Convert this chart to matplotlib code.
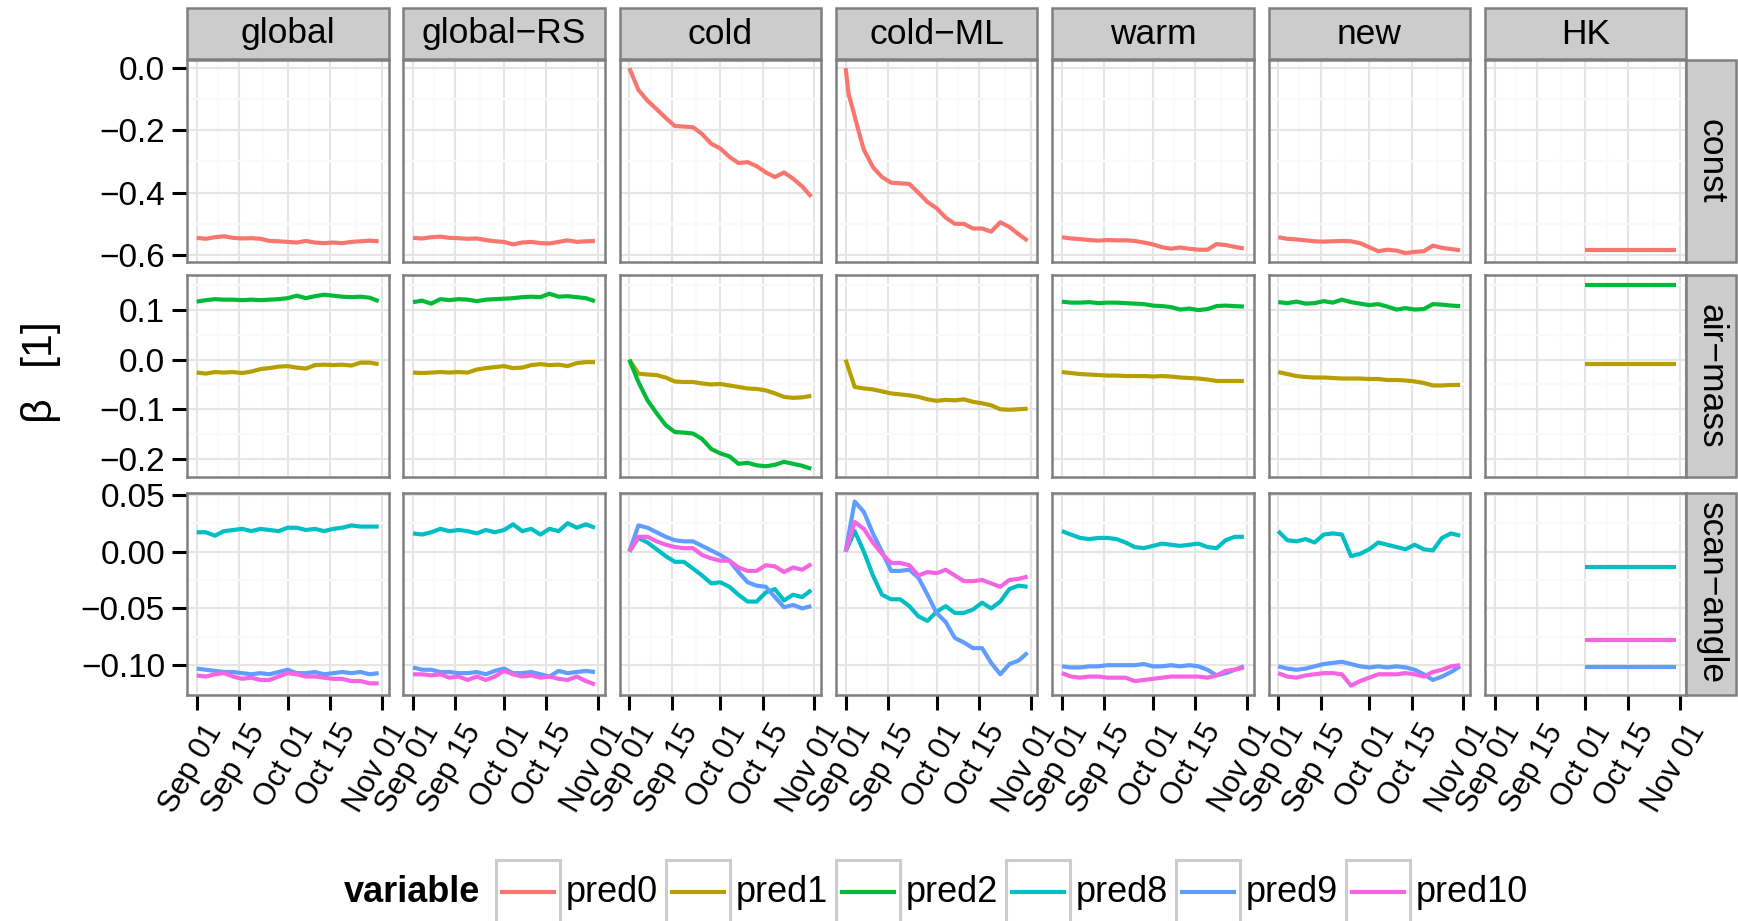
import numpy as np
import matplotlib
matplotlib.use("Agg")
import matplotlib.pyplot as plt
from matplotlib.patches import Rectangle
from matplotlib.lines import Line2D
from matplotlib.transforms import ScaledTranslation, blended_transform_factory

plt.rcParams['font.family'] = ['Liberation Sans', 'DejaVu Sans']

# ---------------------------------------------------------------- data
# days since Sep 01
days = [0, 3, 6, 9, 12, 15, 18, 21, 24, 27, 30, 33, 36, 39, 42, 45, 48, 51, 54, 57, 60]
hk_days = [30, 60]
coldml_pred0_days = [0, 1, 2.5, 4.5, 6, 9, 12, 15, 18, 21, 24, 27, 30, 33, 36, 39, 42, 45, 48, 51, 54, 57, 60]

columns = ["global", "global\u2212RS", "cold", "cold\u2212ML", "warm", "new", "HK"]
rows = ["const", "air\u2212mass", "scan\u2212angle"]
variables = ["pred0", "pred1", "pred2", "pred8", "pred9", "pred10"]
var_colors = ["#F8766D", "#B79F00", "#00BA38", "#00BFC4", "#619CFF", "#F564E3"]

date_ticks = [0, 14, 30, 44, 61]
date_labels = ["Sep 01", "Sep 15", "Oct 01", "Oct 15", "Nov 01"]
date_minor = [7, 22, 37, 52.5]

row_yticks = [[0.0, -0.2, -0.4, -0.6], [0.1, 0.0, -0.1, -0.2], [0.05, 0.0, -0.05, -0.10]]
row_ylabels = [["0.0", "\u22120.2", "\u22120.4", "\u22120.6"],
               ["0.1", "0.0", "\u22120.1", "\u22120.2"],
               ["0.05", "0.00", "\u22120.05", "\u22120.10"]]
row_yminor = [[-0.1, -0.3, -0.5], [0.15, 0.05, -0.05, -0.15], [0.025, -0.025, -0.075, -0.125]]
row_ylim = [(-0.6225, 0.0257), (-0.2376, 0.1697), (-0.1258, 0.052)]

# global
global_pred0 = [-0.545, -0.548, -0.543, -0.540, -0.545, -0.547, -0.546, -0.548, -0.555, -0.556, -0.558,
                -0.560, -0.555, -0.560, -0.562, -0.560, -0.562, -0.558, -0.556, -0.554, -0.556]
global_pred1 = [-0.026, -0.028, -0.025, -0.026, -0.025, -0.027, -0.024, -0.019, -0.017, -0.014, -0.013,
                -0.016, -0.018, -0.011, -0.010, -0.011, -0.010, -0.012, -0.006, -0.006, -0.009]
global_pred2 = [0.117, 0.120, 0.122, 0.121, 0.121, 0.120, 0.121, 0.120, 0.121, 0.122, 0.124,
                0.129, 0.124, 0.128, 0.131, 0.129, 0.127, 0.126, 0.127, 0.125, 0.118]
global_pred8 = [0.017, 0.017, 0.014, 0.018, 0.019, 0.020, 0.018, 0.020, 0.019, 0.018, 0.021,
                0.021, 0.019, 0.020, 0.018, 0.020, 0.021, 0.023, 0.022, 0.022, 0.022]
global_pred9 = [-0.103, -0.104, -0.105, -0.106, -0.106, -0.107, -0.108, -0.107, -0.108, -0.106, -0.104,
                -0.107, -0.107, -0.106, -0.108, -0.107, -0.106, -0.107, -0.106, -0.108, -0.107]
global_pred10 = [-0.109, -0.110, -0.108, -0.107, -0.110, -0.112, -0.111, -0.113, -0.113, -0.110, -0.107,
                 -0.108, -0.110, -0.110, -0.111, -0.112, -0.112, -0.114, -0.114, -0.116, -0.116]

# global-RS
globalrs_pred0 = [-0.545, -0.547, -0.543, -0.541, -0.545, -0.546, -0.548, -0.547, -0.552, -0.556, -0.558,
                  -0.566, -0.560, -0.558, -0.562, -0.563, -0.558, -0.553, -0.558, -0.556, -0.555]
globalrs_pred1 = [-0.026, -0.027, -0.026, -0.025, -0.026, -0.025, -0.026, -0.020, -0.017, -0.015, -0.013,
                  -0.017, -0.016, -0.011, -0.009, -0.011, -0.010, -0.013, -0.007, -0.005, -0.005]
globalrs_pred2 = [0.116, 0.119, 0.113, 0.122, 0.120, 0.122, 0.121, 0.118, 0.121, 0.122, 0.123,
                  0.124, 0.126, 0.127, 0.126, 0.133, 0.127, 0.128, 0.126, 0.124, 0.118]
globalrs_pred8 = [0.016, 0.015, 0.017, 0.020, 0.018, 0.019, 0.018, 0.016, 0.019, 0.017, 0.019,
                  0.024, 0.018, 0.020, 0.015, 0.020, 0.018, 0.025, 0.021, 0.024, 0.021]
globalrs_pred9 = [-0.102, -0.104, -0.104, -0.106, -0.106, -0.107, -0.107, -0.106, -0.108, -0.105, -0.103,
                  -0.107, -0.107, -0.106, -0.108, -0.110, -0.105, -0.107, -0.106, -0.105, -0.106]
globalrs_pred10 = [-0.108, -0.108, -0.109, -0.108, -0.111, -0.110, -0.113, -0.110, -0.113, -0.110, -0.105,
                   -0.108, -0.110, -0.109, -0.111, -0.110, -0.112, -0.113, -0.110, -0.114, -0.117]

# cold
cold_pred0 = [0.0, -0.070, -0.105, -0.132, -0.160, -0.186, -0.188, -0.190, -0.212, -0.243, -0.258,
              -0.285, -0.305, -0.302, -0.315, -0.335, -0.350, -0.335, -0.355, -0.380, -0.413]
cold_pred1 = [0.0, -0.028, -0.030, -0.031, -0.036, -0.044, -0.045, -0.045, -0.048, -0.050, -0.049,
              -0.052, -0.055, -0.058, -0.059, -0.062, -0.068, -0.075, -0.077, -0.076, -0.073]
cold_pred2 = [0.0, -0.045, -0.082, -0.108, -0.132, -0.146, -0.147, -0.149, -0.160, -0.180, -0.189,
              -0.195, -0.210, -0.208, -0.213, -0.215, -0.212, -0.206, -0.210, -0.214, -0.220]
cold_pred8 = [0.0, 0.012, 0.008, 0.002, -0.004, -0.009, -0.009, -0.015, -0.021, -0.028, -0.027,
              -0.031, -0.038, -0.044, -0.044, -0.036, -0.033, -0.043, -0.038, -0.040, -0.034]
cold_pred9 = [0.0, 0.023, 0.021, 0.017, 0.013, 0.010, 0.009, 0.009, 0.005, 0.001, -0.003,
              -0.008, -0.018, -0.027, -0.030, -0.031, -0.040, -0.049, -0.047, -0.050, -0.048]
cold_pred10 = [0.0, 0.013, 0.013, 0.009, 0.006, 0.004, 0.003, 0.003, -0.003, -0.006, -0.008,
               -0.008, -0.014, -0.017, -0.017, -0.012, -0.013, -0.018, -0.014, -0.016, -0.011]

# cold-ML
coldml_pred0 = [0.0, -0.084, -0.137, -0.210, -0.262, -0.318, -0.350, -0.368, -0.370, -0.372, -0.400, -0.430,
                -0.450, -0.480, -0.500, -0.500, -0.515, -0.515, -0.525, -0.495, -0.510, -0.533, -0.554]
coldml_pred1 = [0.0, -0.055, -0.058, -0.060, -0.064, -0.068, -0.070, -0.072, -0.075, -0.080, -0.083,
                -0.081, -0.082, -0.080, -0.085, -0.088, -0.092, -0.100, -0.101, -0.100, -0.099]
coldml_pred8 = [0.0, 0.018, 0.000, -0.021, -0.038, -0.042, -0.042, -0.048, -0.057, -0.061, -0.053,
                -0.048, -0.054, -0.054, -0.051, -0.045, -0.050, -0.044, -0.033, -0.030, -0.031]
coldml_pred9 = [0.0, 0.044, 0.035, 0.016, 0.000, -0.017, -0.017, -0.016, -0.023, -0.038, -0.054,
                -0.062, -0.076, -0.080, -0.085, -0.085, -0.098, -0.108, -0.099, -0.096, -0.089]
coldml_pred10 = [0.0, 0.026, 0.020, 0.008, -0.002, -0.010, -0.010, -0.012, -0.021, -0.018, -0.019,
                 -0.016, -0.021, -0.026, -0.026, -0.025, -0.028, -0.031, -0.025, -0.024, -0.022]

# warm
warm_pred0 = [-0.543, -0.547, -0.549, -0.552, -0.554, -0.552, -0.553, -0.553, -0.555, -0.560, -0.566,
              -0.575, -0.580, -0.576, -0.580, -0.583, -0.583, -0.565, -0.568, -0.574, -0.579]
warm_pred1 = [-0.025, -0.027, -0.029, -0.030, -0.031, -0.032, -0.032, -0.033, -0.033, -0.033, -0.034,
              -0.033, -0.034, -0.036, -0.037, -0.038, -0.040, -0.043, -0.043, -0.043, -0.043]
warm_pred2 = [0.117, 0.115, 0.115, 0.116, 0.114, 0.115, 0.115, 0.114, 0.113, 0.112, 0.109,
              0.108, 0.106, 0.101, 0.103, 0.100, 0.102, 0.108, 0.109, 0.108, 0.107]
warm_pred8 = [0.018, 0.015, 0.012, 0.011, 0.012, 0.012, 0.011, 0.008, 0.004, 0.003, 0.005,
              0.007, 0.006, 0.005, 0.006, 0.007, 0.004, 0.003, 0.010, 0.013, 0.013]
warm_pred9 = [-0.101, -0.102, -0.102, -0.101, -0.101, -0.100, -0.100, -0.100, -0.100, -0.099, -0.101,
              -0.101, -0.100, -0.101, -0.100, -0.101, -0.104, -0.109, -0.107, -0.104, -0.101]
warm_pred10 = [-0.107, -0.110, -0.111, -0.110, -0.110, -0.111, -0.111, -0.111, -0.114, -0.113, -0.112,
               -0.111, -0.110, -0.110, -0.110, -0.110, -0.111, -0.109, -0.105, -0.104, -0.102]

# new
new_pred0 = [-0.543, -0.548, -0.550, -0.553, -0.556, -0.557, -0.556, -0.555, -0.556, -0.562, -0.575,
             -0.588, -0.583, -0.586, -0.594, -0.590, -0.588, -0.570, -0.577, -0.581, -0.585]
new_pred1 = [-0.025, -0.029, -0.033, -0.035, -0.036, -0.036, -0.037, -0.038, -0.038, -0.038, -0.039,
             -0.039, -0.041, -0.041, -0.042, -0.044, -0.047, -0.052, -0.052, -0.051, -0.051]
new_pred2 = [0.116, 0.114, 0.117, 0.113, 0.114, 0.118, 0.115, 0.121, 0.116, 0.113, 0.110,
             0.112, 0.107, 0.101, 0.104, 0.101, 0.102, 0.112, 0.111, 0.109, 0.108]
new_pred8 = [0.018, 0.010, 0.009, 0.011, 0.008, 0.015, 0.016, 0.015, -0.004, -0.002, 0.002,
             0.008, 0.006, 0.004, 0.002, 0.006, 0.002, 0.001, 0.012, 0.016, 0.014]
new_pred9 = [-0.101, -0.103, -0.104, -0.103, -0.101, -0.099, -0.098, -0.097, -0.099, -0.101, -0.102,
             -0.101, -0.102, -0.101, -0.102, -0.104, -0.108, -0.113, -0.110, -0.106, -0.101]
new_pred10 = [-0.107, -0.110, -0.111, -0.109, -0.108, -0.107, -0.107, -0.108, -0.118, -0.114, -0.111,
              -0.108, -0.108, -0.108, -0.107, -0.108, -0.110, -0.106, -0.104, -0.101, -0.100]

# HK (Oct 01 - Oct 31 only)
hk_pred0 = [-0.584, -0.584]
hk_pred1 = [-0.009, -0.009]
hk_pred2 = [0.151, 0.151]
hk_pred8 = [-0.014, -0.014]
hk_pred9 = [-0.102, -0.102]
hk_pred10 = [-0.078, -0.078]

# series drawn in each facet: (column, row) -> list of (variable, x, y)
panel_series = {}
for col, d, d0, p0, p1, p2, p8, p9, p10 in [
        ("global", days, days, global_pred0, global_pred1, global_pred2, global_pred8, global_pred9, global_pred10),
        ("global\u2212RS", days, days, globalrs_pred0, globalrs_pred1, globalrs_pred2, globalrs_pred8, globalrs_pred9, globalrs_pred10),
        ("cold", days, days, cold_pred0, cold_pred1, cold_pred2, cold_pred8, cold_pred9, cold_pred10),
        ("cold\u2212ML", days, coldml_pred0_days, coldml_pred0, coldml_pred1, None, coldml_pred8, coldml_pred9, coldml_pred10),
        ("warm", days, days, warm_pred0, warm_pred1, warm_pred2, warm_pred8, warm_pred9, warm_pred10),
        ("new", days, days, new_pred0, new_pred1, new_pred2, new_pred8, new_pred9, new_pred10),
        ("HK", hk_days, hk_days, hk_pred0, hk_pred1, hk_pred2, hk_pred8, hk_pred9, hk_pred10)]:
    panel_series[(col, 0)] = [("pred0", d0, p0)]
    panel_series[(col, 1)] = [(v, d, s) for v, s in (("pred1", p1), ("pred2", p2)) if s is not None]
    panel_series[(col, 2)] = [("pred8", d, p8), ("pred9", d, p9), ("pred10", d, p10)]

# ---------------------------------------------------------------- layout (pixels)
W, H, DPI = 1738, 921, 100
fig = plt.figure(figsize=(W / DPI, H / DPI), dpi=DPI)
fig.patch.set_facecolor("white")

col_left0, col_step, panel_w = 187.0, 216.3, 201.5
row_tops = [60.0, 275.5, 492.5]
panel_h = 202.0
xlim = (-3.2, 63.24)

BORDER = "#7F7F7F"
STRIP = "#CCCCCC"
FS_YTICK = 24
FS_XTICK = 22
FS_STRIP = 25.5
FS_LEG = 26
LW = 3.0

def frac_rect(x0, y0, w, h):
    return [x0 / W, 1 - (y0 + h) / H, w / W, h / H]

color_of = dict(zip(variables, var_colors))

for r in range(3):
    for c, col in enumerate(columns):
        x0 = col_left0 + c * col_step
        ax = fig.add_axes(frac_rect(x0, row_tops[r], panel_w, panel_h))
        ax.set_xlim(*xlim)
        ax.set_ylim(*row_ylim[r])
        ax.set_xticks(date_ticks)
        ax.set_xticks(date_minor, minor=True)
        ax.set_yticks(row_yticks[r])
        ax.set_yticks(row_yminor[r], minor=True)
        ax.grid(which="minor", color="#FAFAFA", lw=1.5, zorder=0)
        ax.grid(which="major", color="#E5E5E5", lw=1.5, zorder=0)
        ax.set_axisbelow(True)
        for sp in ax.spines.values():
            sp.set_color(BORDER)
            sp.set_linewidth(1.8)
            sp.set_zorder(5)
        ax.tick_params(which="minor", length=0)
        ax.tick_params(which="major", direction="out", length=10.8, width=2.2,
                       color="black", labelsize=FS_YTICK, pad=5.0)
        ax.set_xticklabels([])
        if r != 2:
            ax.tick_params(axis="x", which="major", length=0)
        else:
            tr = blended_transform_factory(ax.transData, ax.transAxes)
            for t, lab in zip(date_ticks, date_labels):
                ax.text(t, 0, lab, transform=tr + ScaledTranslation(19 / DPI, -32 / DPI, fig.dpi_scale_trans),
                        rotation=60, ha="right", va="center", rotation_mode="anchor",
                        fontsize=FS_XTICK, clip_on=False)
        if c == 0:
            ax.set_yticklabels(row_ylabels[r])
        else:
            ax.set_yticklabels([])
            ax.tick_params(axis="y", which="major", length=0)
        for var, xs, ys in panel_series[(col, r)]:
            ax.plot(xs, ys, color=color_of[var], lw=LW, solid_capstyle="butt", zorder=3)

# column strips
for c, col in enumerate(columns):
    x0 = col_left0 + c * col_step
    fig.patches.append(Rectangle((x0 / W, 1 - 59.5 / H), panel_w / W, 51 / H,
                                 transform=fig.transFigure, facecolor=STRIP,
                                 edgecolor=BORDER, lw=1.8, zorder=1))
    fig.text((x0 + panel_w / 2) / W, 1 - 34 / H, col, ha="center", va="center",
             fontsize=FS_STRIP)

# row strips
strip_x0 = col_left0 + 6 * col_step + panel_w
for r, name in enumerate(rows):
    fig.patches.append(Rectangle((strip_x0 / W, 1 - (row_tops[r] + panel_h) / H), 50 / W, panel_h / H,
                                 transform=fig.transFigure, facecolor=STRIP,
                                 edgecolor=BORDER, lw=1.8, zorder=1))
    fig.text((strip_x0 + 25) / W, 1 - (row_tops[r] + panel_h / 2) / H, name, ha="center",
             va="center", rotation=-90, fontsize=FS_STRIP)

# axis title: beta [1]
fig.text(38 / W, 1 - 408 / H, "\u03b2", rotation=90, ha="center", va="center", fontsize=31)
fig.text(38 / W, 1 - 341 / H, "[1]", rotation=90, ha="center", va="center", fontsize=31)

# legend
leg_y = 892
fig.text(480 / W, 1 - leg_y / H, "variable", ha="right", va="center", fontsize=FS_LEG,
         fontweight="bold")
key_x0, key_step, key_w = 496, 170, 64
for i, (var, colr) in enumerate(zip(variables, var_colors)):
    kx = key_x0 + i * key_step
    fig.patches.append(Rectangle((kx / W, 1 - 924 / H), key_w / W, 64 / H,
                                 transform=fig.transFigure, facecolor="white",
                                 edgecolor="#CCCCCC", lw=2.2, zorder=1))
    fig.lines.append(Line2D([(kx + 6) / W, (kx + key_w - 6) / W], [1 - leg_y / H, 1 - leg_y / H],
                            transform=fig.transFigure, color=colr, lw=LW, zorder=2))
    fig.text((kx + key_w + 6) / W, 1 - leg_y / H, var, ha="left", va="center", fontsize=FS_LEG)

fig.savefig("out.png", dpi=DPI)
